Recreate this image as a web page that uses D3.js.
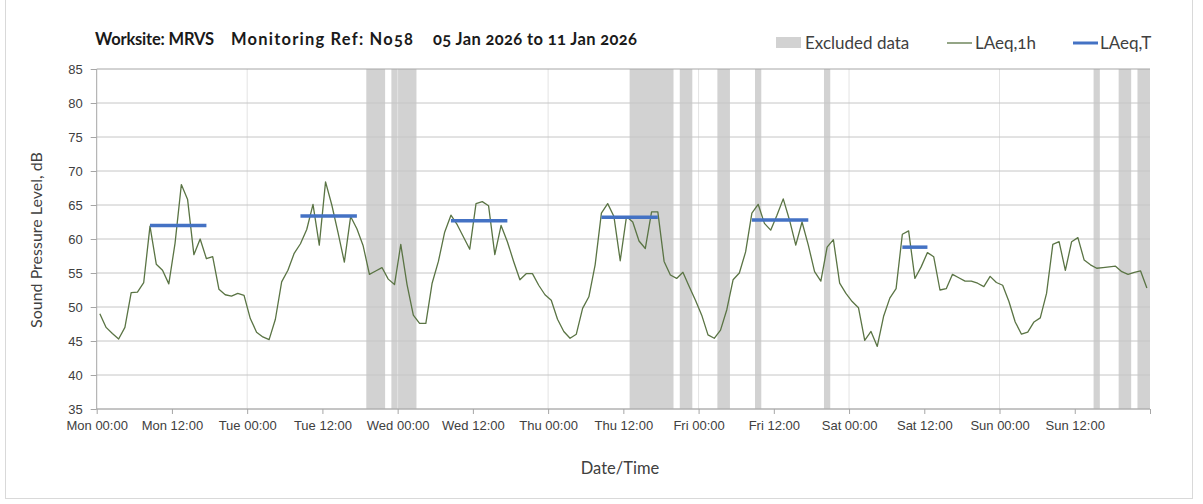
<!DOCTYPE html>
<html lang="en">
<head>
  <meta charset="UTF-8">
  <title>Noise Monitoring</title>
  <script src="https://d3js.org/d3.v7.min.js"></script>
  <style>
    body { margin: 0; background: #fff; }
    svg { font-family: Lato, "Open Sans", sans-serif; font-variant-numeric: oldstyle-nums; }
    .axis text { fill: #404040; font-size: 13px; }
    .axis path, .axis line { stroke: #a6a6a6; }
  </style>
</head>
<body>
<svg id="chart" width="1203" height="504"></svg>

<script>
  // Hourly LAeq,1h values, Mon 00:00 onwards (one per hour)
  const laeq1h = [
    49.0, 47.0, 46.1, 45.3, 47.0, 52.1, 52.2, 53.6, 61.9, 56.3, 55.4, 53.4,
    59.4, 68.0, 65.8, 57.7, 60.0, 57.1, 57.4, 52.6, 51.8, 51.6, 52.0, 51.7,
    48.3, 46.3, 45.6, 45.2, 48.2, 53.7, 55.4, 57.9, 59.3, 61.4, 65.1, 59.1,
    68.4, 65.0, 60.9, 56.6, 63.3, 61.5, 59.0, 54.8, 55.3, 55.8, 54.1, 53.3,
    59.2, 53.3, 48.8, 47.6, 47.6, 53.5, 56.7, 61.0, 63.5, 62.1, 60.3, 58.5,
    65.2, 65.5, 64.9, 57.7, 62.0, 59.6, 56.7, 54.0, 54.9, 54.9, 53.2, 51.8,
    51.0, 48.2, 46.4, 45.4, 46.0, 49.8, 51.5, 56.2, 63.8, 65.2, 63.3, 56.8,
    63.3, 62.5, 59.7, 58.6, 64.0, 64.0, 56.7, 54.7, 54.2, 55.1, 53.0, 51.0,
    48.8, 45.9, 45.4, 46.6, 49.6, 54.0, 55.0, 58.1, 63.8, 65.1, 62.3, 61.3,
    63.5, 65.9, 62.8, 59.1, 62.5, 59.1, 55.2, 53.8, 58.8, 59.9, 53.5, 52.0,
    50.8, 49.9, 45.1, 46.4, 44.2, 48.6, 51.3, 52.7, 60.7, 61.2, 54.2, 55.9,
    58.0, 57.4, 52.5, 52.7, 54.8, 54.3, 53.8, 53.8, 53.5, 53.0, 54.5, 53.6,
    53.2, 50.8, 47.8, 46.0, 46.3, 47.8, 48.4, 52.0, 59.2, 59.6, 55.4, 59.6,
    60.2, 56.9, 56.2, 55.7, 55.8, 55.9, 56.0, 55.2, 54.8, 55.1, 55.3, 52.8
  ];

  // LAeq,T for each working period (first and last hour of period)
  const periodStartHour = [8, 32, 56, 80, 104, 128];
  const periodEndHour   = [17, 41, 65, 89, 113, 132];
  const periodValue     = [62.0, 63.4, 62.7, 63.2, 62.8, 58.8];

  // Excluded data windows, hours from Mon 00:00
  const excludedFrom = [43, 47, 85, 93, 99, 105, 116, 159, 163, 166];
  const excludedTo   = [46, 51, 92, 95, 101, 106, 117, 160, 165, 168];

  const yTicks = [35, 40, 45, 50, 55, 60, 65, 70, 75, 80, 85];

  const start = new Date(Date.UTC(2026, 0, 5));
  const hour = h => new Date(start.getTime() + h * 3600e3);
  const end = hour(168);

  const svg = d3.select("#chart");
  const x = d3.scaleUtc().domain([start, end]).range([96.7, 1150]);
  const y = d3.scaleLinear().domain([35, 85]).range([409, 69]);

  // chart border
  svg.append("rect")
    .attr("x", 5.5).attr("y", -2).attr("width", 1187).attr("height", 500.5)
    .attr("fill", "none").attr("stroke", "#d9d9d9");

  // excluded bands
  svg.append("g").selectAll("rect")
    .data(excludedFrom.map((f, i) => [f, excludedTo[i]]))
    .join("rect")
    .attr("x", d => x(hour(d[0])))
    .attr("width", d => x(hour(d[1])) - x(hour(d[0])))
    .attr("y", y(85)).attr("height", y(35) - y(85))
    .attr("fill", "#d2d2d2");

  // vertical day gridlines
  svg.append("g").selectAll("line")
    .data(d3.utcDay.range(hour(24), end))
    .join("line")
    .attr("x1", d => x(d)).attr("x2", d => x(d))
    .attr("y1", y(85)).attr("y2", y(35))
    .attr("stroke", "#e3e3e3");

  // horizontal gridlines
  svg.append("g").selectAll("line")
    .data(yTicks)
    .join("line")
    .attr("x1", x(start)).attr("x2", x(end))
    .attr("y1", d => y(d)).attr("y2", d => y(d))
    .attr("stroke", d => d === 85 ? "#a6a6a6" : "#c6c6c6");

  // axes
  const yAxis = svg.append("g").attr("class", "axis")
    .attr("transform", `translate(${x(start)},0)`)
    .call(d3.axisLeft(y).tickValues(yTicks).tickSize(6).tickPadding(8));
  yAxis.select(".domain").attr("d", `M0,${y(85)}V${y(35)}`);

  const fmt = d3.utcFormat("%a %H:%M");
  const xAxis = svg.append("g").attr("class", "axis")
    .attr("transform", `translate(0,${y(35)})`)
    .call(d3.axisBottom(x)
      .tickValues(d3.utcHour.every(12).range(start, hour(169)))
      .tickSize(5).tickPadding(7)
      .tickFormat(d => +d === +end ? "" : fmt(d)));
  xAxis.select(".domain").attr("d", `M${x(start)},0H${x(end)}`);

  // LAeq,1h line
  const line = d3.line()
    .x((d, i) => x(hour(i + 0.5)))
    .y(d => y(d));
  svg.append("path")
    .datum(laeq1h)
    .attr("d", line)
    .attr("fill", "none")
    .attr("stroke", "#5a7444")
    .attr("stroke-width", 1.3)
    .attr("stroke-linejoin", "round");

  // LAeq,T bars
  svg.append("g").selectAll("line")
    .data(periodValue)
    .join("line")
    .attr("x1", (d, i) => x(hour(periodStartHour[i] + 0.5)))
    .attr("x2", (d, i) => x(hour(periodEndHour[i] + 0.5)))
    .attr("y1", d => y(d)).attr("y2", d => y(d))
    .attr("stroke", "#4472c4")
    .attr("stroke-width", 3.5);

  // titles
  const title = svg.append("text")
    .attr("y", 45)
    .attr("font-size", 16.5).attr("font-weight", "bold").attr("fill", "#1a1a1a");
  title.append("tspan").attr("x", 95).attr("textLength", 119).text("Worksite: MRVS");
  title.append("tspan").attr("x", 231).attr("textLength", 182).text("Monitoring Ref: No58");
  title.append("tspan").attr("x", 433).attr("textLength", 204).text("05 Jan 2026 to 11 Jan 2026");

  svg.append("text")
    .attr("transform", "translate(42,240) rotate(-90)")
    .attr("text-anchor", "middle")
    .attr("font-size", 16).attr("fill", "#404040")
    .text("Sound Pressure Level, dB");

  svg.append("text")
    .attr("x", 620).attr("y", 474)
    .attr("text-anchor", "middle")
    .attr("font-size", 16.5).attr("fill", "#404040")
    .text("Date/Time");

  // legend
  const legend = svg.append("g").attr("font-size", 17).attr("fill", "#404040");
  legend.append("rect").attr("x", 776).attr("y", 37).attr("width", 25).attr("height", 11).attr("fill", "#d2d2d2");
  legend.append("text").attr("x", 805).attr("y", 48.5).text("Excluded data");
  legend.append("line").attr("x1", 947).attr("x2", 972).attr("y1", 43).attr("y2", 43)
    .attr("stroke", "#5a7444").attr("stroke-width", 1.3);
  legend.append("text").attr("x", 975).attr("y", 48.5).text("LAeq,1h");
  legend.append("line").attr("x1", 1073).attr("x2", 1098).attr("y1", 43).attr("y2", 43)
    .attr("stroke", "#4472c4").attr("stroke-width", 3);
  legend.append("text").attr("x", 1100).attr("y", 48.5).text("LAeq,T");
</script>
</body>
</html>
